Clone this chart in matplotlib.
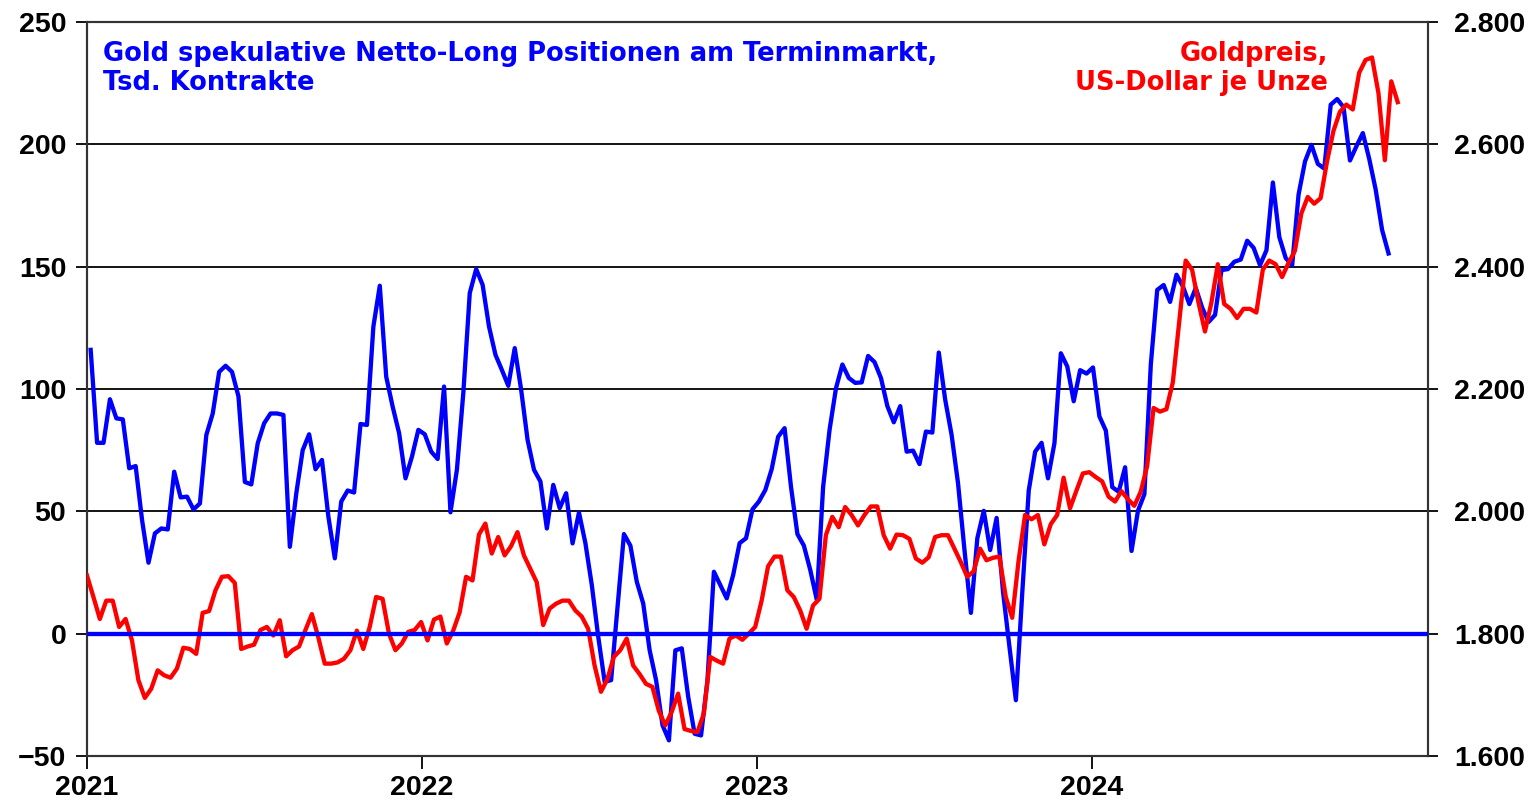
import matplotlib
matplotlib.use("Agg")
import matplotlib.pyplot as plt
import matplotlib.ticker as mticker
from matplotlib.font_manager import FontProperties
import pandas as pd

# Gold speculative net long positions, thousand contracts (weekly, COT Tuesdays)
net_long = [116, 78, 78, 95.8, 88, 87.6, 67.6, 68.5, 46.4, 29, 41, 43, 42.6, 66.2, 55.7, 56,
            50.8, 53.2, 81.2, 90, 107, 109.5, 107, 97, 62, 61, 77.8, 86, 90, 90, 89.4, 35.5,
            57.3, 75, 81.5, 67.2, 71, 47.8, 30.8, 54, 58.5, 57.7, 85.7, 85.3, 125.5, 142.2,
            105, 92.8, 82, 63.5, 72.3, 83.3, 81.5,
            74.4, 71.4, 101, 49.6, 67, 98.4, 139.2, 149, 142.6, 125.5, 114, 107.8, 101.3, 116.7,
            99.7, 79.2, 67, 62.2, 43, 60.8, 51.3, 57.4, 36.9, 49.5, 37, 19.8, -1.3, -19.7, -19,
            11, 40.7, 36, 21.2, 12.3, -6.8, -19, -37.4, -43.6, -6.8, -6, -25.8, -40.9, -41.6,
            -19, 25.3, 19.8, 14.4, 24, 37, 39, 50.8, 54,
            58.7, 67.3, 80.5, 84, 60, 40.7, 36, 26, 14, 60, 83.3, 100.3, 110, 104.5, 102.5,
            102.7, 113.5, 111, 104.5, 93, 86.4, 93, 74.4, 74.8, 69.3, 82.6, 82.2, 114.9, 95.6,
            81.2, 61.4, 34.2, 8.5, 39, 50.2, 34.2, 47.3, 17.1, -5.4, -27.2, 17, 58.5, 74.4, 78,
            63.5, 77.8, 114.6, 109.2, 95, 107.7, 106.3, 108.8,
            88.8, 83, 59.9, 58, 68, 33.8, 50.2, 57, 110, 140.5, 142.5, 135.6, 146.7, 141.9,
            134.7, 141.3, 133.2, 127.4, 130.3, 148.6, 149, 152, 152.9, 160.6, 157.7, 150.6,
            156.7, 184.4, 162.1, 153.5, 150.6, 179.5, 193, 199.8, 192, 190.1, 216.2, 218.5,
            215.2, 193.4, 199.2, 204.6, 194, 181.5, 165, 155.4]

# Gold price, USD per ounce (weekly, Fridays)
gold_price = [1895, 1860, 1824, 1854, 1854, 1811, 1824, 1789, 1724, 1695, 1710, 1740, 1732,
              1728, 1743, 1777, 1775, 1767, 1834, 1837, 1871, 1893, 1894, 1883, 1775, 1779,
              1782, 1806, 1811, 1797, 1822, 1763, 1773, 1779, 1806, 1832, 1794, 1751, 1751,
              1753, 1759, 1773, 1805, 1775, 1811, 1860, 1857, 1800, 1773, 1784, 1803, 1806,
              1819,
              1789, 1823, 1828, 1784, 1805, 1835, 1893, 1887, 1962, 1980, 1931, 1958, 1928,
              1943, 1966, 1928, 1906, 1884, 1814, 1841, 1849, 1854, 1854, 1838, 1828, 1808,
              1748, 1705, 1726, 1762, 1773, 1792, 1748, 1734, 1718, 1713, 1674, 1650, 1672,
              1702, 1644, 1641, 1639, 1669, 1762, 1756, 1751, 1792, 1797, 1790, 1800, 1811,
              1854, 1910, 1926, 1926, 1871, 1860, 1838, 1808, 1846, 1857, 1961, 1991, 1974,
              2007, 1994, 1977, 1994, 2008, 2008, 1961, 1939, 1962, 1961, 1955, 1923, 1916,
              1925, 1958, 1961, 1961, 1939, 1917, 1893, 1902, 1939, 1920, 1924, 1926, 1860,
              1826, 1920, 1994, 1987, 1994, 1946, 1979, 1994, 2055, 2005, 2034, 2062, 2064,
              2056, 2049, 2024, 2016, 2033, 2020, 2009, 2032, 2074, 2169, 2163, 2167, 2211,
              2310, 2410, 2395, 2341, 2294, 2341, 2404, 2339, 2331, 2316, 2331, 2331, 2325,
              2395, 2410, 2404, 2383, 2406, 2426, 2487, 2514, 2503, 2512, 2572, 2622, 2653,
              2665, 2657, 2717, 2738, 2742, 2684, 2574, 2703, 2669]

net_long_dates = pd.date_range("2021-01-05", periods=len(net_long), freq="7D")
gold_dates = pd.date_range("2021-01-01", periods=len(gold_price), freq="7D")
years = [2021, 2022, 2023, 2024]

BLUE = "#0000ff"
RED = "#ff0000"
W, H = 1536, 801

fig = plt.figure(figsize=(W / 100, H / 100), dpi=100)
ax = fig.add_axes([87 / W, 1 - 756 / H, (1428 - 87) / W, (756 - 22) / H])

ax.plot(net_long_dates, net_long, color=BLUE, lw=3.1, zorder=3, solid_joinstyle="round")
ax.set_ylim(-50, 250)
ax.set_yticks(range(-50, 251, 50))
ax.set_xlim(pd.Timestamp("2021-01-01"), pd.Timestamp("2025-01-01"))
ax.set_xticks([pd.Timestamp(f"{y}-01-01") for y in years])
ax.set_xticklabels([str(y) for y in years])
ax.grid(axis="y", color="black", lw=1.3, zorder=1)

ax2 = ax.twinx()
ax2.plot(gold_dates, gold_price, color=RED, lw=3.1, zorder=3, solid_joinstyle="round")
ax2.axhline(1800, color=BLUE, lw=3.1, zorder=4)
ax2.set_ylim(1600, 2800)
ax2.set_yticks(range(1600, 2801, 200))
ax2.yaxis.set_major_formatter(
    mticker.FuncFormatter(lambda v, p: f"{v:,.0f}".replace(",", ".")))

for a in (ax, ax2):
    for s in a.spines.values():
        s.set_color("#333333")
        s.set_linewidth(1.5)
ax.tick_params(axis="y", direction="out", length=8, width=1.3, pad=7)
ax.tick_params(axis="x", direction="out", length=9, width=1.3, pad=5)
ax2.tick_params(axis="y", direction="out", length=7, width=1.3, pad=12)
tickfont = FontProperties(family="Liberation Sans", weight="bold", size=20.5)
for lab in ax.get_yticklabels() + ax.get_xticklabels() + ax2.get_yticklabels():
    lab.set_fontproperties(tickfont)

title_font = dict(family="DejaVu Sans", weight="bold", size=18.5)
fig.text(103 / W, 1 - 61 / H, "Gold spekulative Netto-Long Positionen am Terminmarkt,",
         color=BLUE, va="baseline", ha="left", **title_font)
fig.text(103 / W, 1 - 90.5 / H, "Tsd. Kontrakte",
         color=BLUE, va="baseline", ha="left", **title_font)
fig.text(1328 / W, 1 - 61 / H, "Goldpreis,",
         color=RED, va="baseline", ha="right", **title_font)
fig.text(1328 / W, 1 - 90.5 / H, "US-Dollar je Unze",
         color=RED, va="baseline", ha="right", **title_font)

fig.savefig("out.png", dpi=100)
